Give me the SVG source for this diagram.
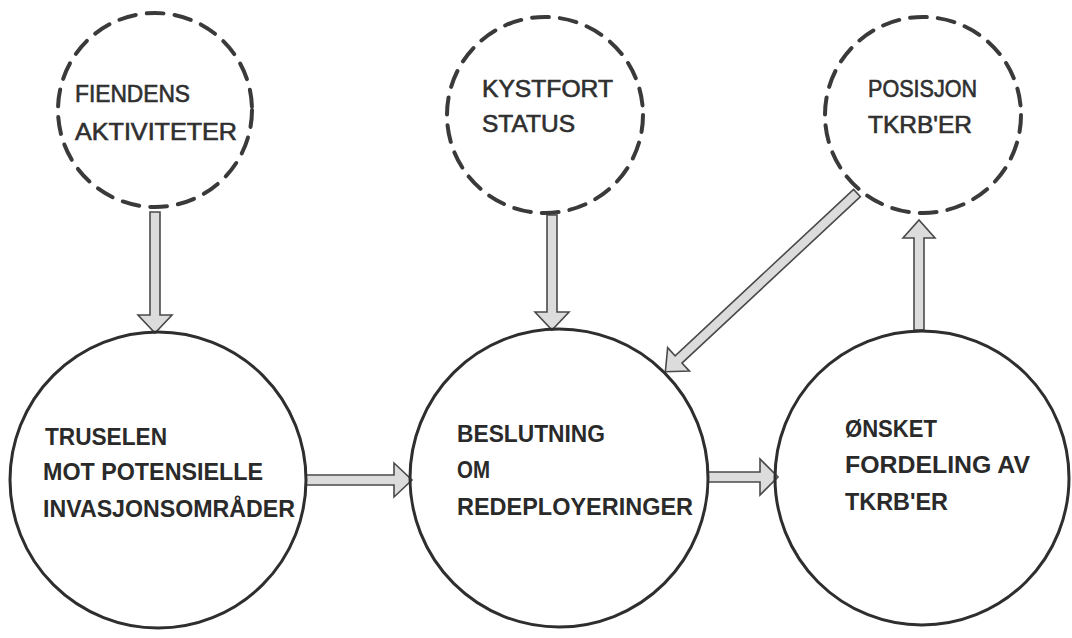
<svg xmlns="http://www.w3.org/2000/svg" width="1072" height="638" viewBox="0 0 1072 638">
<style>
.bg{fill:#ffffff}
.dash{fill:none;stroke:#3a3a3a;stroke-width:4;stroke-dasharray:17 11;stroke-linecap:round}
.solid{fill:none;stroke:#2e2e2e;stroke-width:3}
.arrow{fill:#dcdcdc;stroke:#4a4a4a;stroke-width:1.6;stroke-linejoin:miter}
.t{font-family:"Liberation Sans",Arial,sans-serif;font-size:24px;font-weight:bold;fill:#2a2a2a;lengthAdjust:spacingAndGlyphs}
.tt{font-family:"Liberation Sans",Arial,sans-serif;font-size:23px;font-weight:normal;fill:#2f2f2f;stroke:#2f2f2f;stroke-width:0.6}
</style>
<rect class="bg" x="0" y="0" width="1072" height="638"/>

<g id="connectors">
  <polygon class="arrow" transform="translate(155,212) rotate(90)" points="0,-5 103,-5 103,-17 121,0 103,17 103,5 0,5"/>
  <polygon class="arrow" transform="translate(552,215) rotate(90)" points="0,-5 97,-5 97,-17 115,0 97,17 97,5 0,5"/>
  <polygon class="arrow" transform="translate(919,330) rotate(-90)" points="0,-5 92,-5 92,-16 110,0 92,16 92,5 0,5"/>
  <polygon class="arrow" transform="translate(857,193) rotate(137)" points="0,-5 244,-5 244,-16 262,0 244,16 244,5 0,5"/>
  <polygon class="arrow" transform="translate(306,480)" points="0,-5 88,-5 88,-17 106,0 88,17 88,5 0,5"/>
  <polygon class="arrow" transform="translate(708,477)" points="0,-5 52,-5 52,-18 70,0 52,18 52,5 0,5"/>
</g>

<g id="node-fiendens">
  <circle class="dash" cx="155" cy="110" r="97"/>
  <text class="tt" x="75" y="102" textLength="115" lengthAdjust="spacingAndGlyphs">FIENDENS</text>
  <text class="tt" x="75" y="140" textLength="162" lengthAdjust="spacingAndGlyphs">AKTIVITETER</text>
</g>

<g id="node-kystfort">
  <circle class="dash" cx="545" cy="115" r="98"/>
  <text class="tt" x="482" y="97" textLength="131" lengthAdjust="spacingAndGlyphs">KYSTFORT</text>
  <text class="tt" x="482" y="132" textLength="93" lengthAdjust="spacingAndGlyphs">STATUS</text>
</g>

<g id="node-posisjon">
  <circle class="dash" cx="923" cy="115" r="98"/>
  <text class="tt" x="868" y="97" textLength="109" lengthAdjust="spacingAndGlyphs">POSISJON</text>
  <text class="tt" x="868" y="133" textLength="104" lengthAdjust="spacingAndGlyphs">TKRB'ER</text>
</g>

<g id="node-truselen">
  <circle class="solid" cx="158" cy="480" r="148"/>
  <text class="t" x="45" y="445" textLength="122" lengthAdjust="spacingAndGlyphs">TRUSELEN</text>
  <text class="t" x="43" y="480" textLength="220" lengthAdjust="spacingAndGlyphs">MOT POTENSIELLE</text>
  <text class="t" x="43" y="517" textLength="252" lengthAdjust="spacingAndGlyphs">INVASJONSOMRÅDER</text>
</g>

<g id="node-beslutning">
  <circle class="solid" cx="559" cy="478" r="149"/>
  <text class="t" x="457" y="442" textLength="148" lengthAdjust="spacingAndGlyphs">BESLUTNING</text>
  <text class="t" x="457" y="478" textLength="33" lengthAdjust="spacingAndGlyphs">OM</text>
  <text class="t" x="457" y="515" textLength="236" lengthAdjust="spacingAndGlyphs">REDEPLOYERINGER</text>
</g>

<g id="node-onsket">
  <circle class="solid" cx="922" cy="478" r="147"/>
  <text class="t" x="845" y="437" textLength="92" lengthAdjust="spacingAndGlyphs">ØNSKET</text>
  <text class="t" x="845" y="473" textLength="185" lengthAdjust="spacingAndGlyphs">FORDELING AV</text>
  <text class="t" x="845" y="510" textLength="103" lengthAdjust="spacingAndGlyphs">TKRB'ER</text>
</g>
</svg>
